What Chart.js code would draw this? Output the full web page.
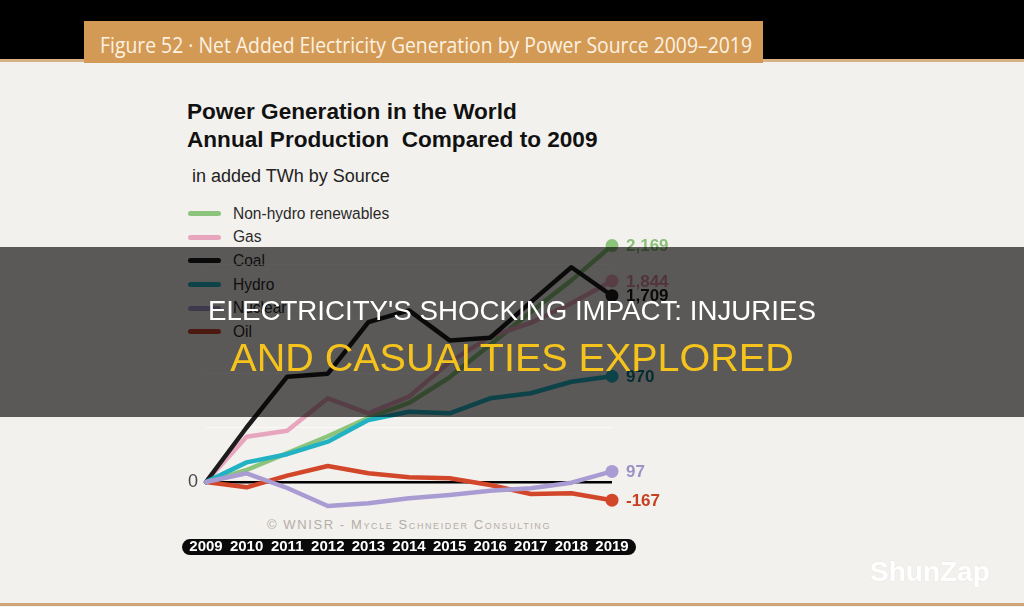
<!DOCTYPE html>
<html>
<head>
<meta charset="utf-8">
<script src="https://cdn.jsdelivr.net/npm/chart.js@4.4.1/dist/chart.umd.min.js"></script>
<style>
  html, body { margin: 0; padding: 0; }
  body {
    width: 1024px; height: 607px; overflow: hidden; position: relative;
    background: #f3f1ee; font-family: "Liberation Sans", Arial, sans-serif;
  }
  .abs { position: absolute; }
  #top-band { left: 0; top: 0; width: 1024px; height: 59px; background: #000; }
  #top-rule { left: 0; top: 59px; width: 1024px; height: 3px; background: #d8b185; }
  #fig-bar { left: 84px; top: 21px; width: 679px; height: 42px; background: #d39a55; }
  #fig-title {
    left: 100px; top: 30px; font-family: "Open Sans", sans-serif; font-size: 22px;
    line-height: 28px; color: #fdf2e2; white-space: nowrap; transform-origin: left center;
  }
  #title { left: 187px; top: 98px; font-weight: bold; font-size: 22.6px; line-height: 28px; color: #111; white-space: nowrap; }
  #subtitle { left: 192px; top: 165px; font-size: 18px; line-height: 22px; color: #222; white-space: nowrap; }
  #legend { left: 188px; top: 202px; }
  .legend-row { display: flex; align-items: center; height: 23.6px; }
  .legend-line { width: 33px; height: 5px; border-radius: 3px; margin-right: 12px; }
  .legend-text { font-size: 16px; color: #2a2a2a; display: inline-block; transform-origin: left center; transform: scale(0.97, 1.06); }
  #credit {
    left: 409px; top: 517px; font-size: 13px; line-height: 16px; color: #b3aea8;
    font-variant: small-caps; letter-spacing: 1.6px; white-space: nowrap; transform: translateX(-50%);
  }
  #chart { left: 0; top: 0; z-index: 1; }
  #banner { left: 0; top: 247px; width: 1024px; height: 170px; background: rgba(0, 0, 0, 0.63); z-index: 2; }
  .banner-line { position: absolute; left: 0; width: 1024px; text-align: center; white-space: nowrap; }
  #banner-1 { top: 48px; font-size: 27.7px; line-height: 32px; color: #fff; }
  #banner-2 { top: 88px; font-size: 39.5px; line-height: 44px; color: #f6c31c; }
  #watermark {
    left: 870px; top: 555px; font-size: 28px; line-height: 34px; font-weight: bold; color: #fff;
    text-shadow: 0 0 2px rgba(0, 0, 0, 0.08); z-index: 3;
  }
  #bottom-rule { left: 0; top: 603px; width: 1024px; height: 3px; background: #cfa57a; }
</style>
</head>
<body>
<div id="top-band" class="abs"></div>
<div id="top-rule" class="abs"></div>
<div id="fig-bar" class="abs"></div>
<div id="fig-title" class="abs">Figure 52 · Net Added Electricity Generation by Power Source 2009–2019</div>

<div id="title" class="abs">Power Generation in the World<br>Annual Production&nbsp; Compared to 2009</div>
<div id="subtitle" class="abs">in added TWh by Source</div>
<div id="legend" class="abs"></div>
<div id="credit" class="abs">© WNISR - Mycle Schneider Consulting</div>

<canvas id="chart" class="abs" width="1024" height="607"></canvas>

<div id="banner" class="abs">
  <div id="banner-1" class="banner-line">ELECTRICITY'S SHOCKING IMPACT: INJURIES</div>
  <div id="banner-2" class="banner-line">AND CASUALTIES EXPLORED</div>
</div>
<div id="watermark" class="abs">ShunZap</div>
<div id="bottom-rule" class="abs"></div>

<script>
// Chart data (added TWh compared to 2009)
const years = ['2009', '2010', '2011', '2012', '2013', '2014', '2015', '2016', '2017', '2018', '2019'];
const seriesNames = ['Non-hydro renewables', 'Gas', 'Coal', 'Hydro', 'Nuclear', 'Oil'];
const seriesColors = ['#8dc47c', '#e8a6be', '#1c1c1c', '#22b2c4', '#a99cd2', '#d2472a'];
const labelColors = ['#8cbf78', '#d98aa6', '#1a1a1a', '#127785', '#9c92c8', '#c6411f'];
const drawOrder = [5, 4, 2, 1, 0, 3];

const renewables = [0, 110, 265, 420, 590, 725, 960, 1260, 1560, 1850, 2169];
const gas = [0, 416, 471, 768, 630, 783, 1100, 1333, 1460, 1640, 1844];
const coal = [0, 500, 966, 994, 1467, 1574, 1299, 1324, 1650, 1970, 1709];
const hydro = [0, 180, 255, 370, 569, 645, 630, 768, 814, 920, 970];
const nuclear = [0, 80, -55, -220, -195, -150, -119, -80, -58, -6, 97];
const oil = [0, -49, 58, 147, 80, 43, 34, -28, -110, -104, -167];

const yTicks = [0, 500, 1000, 1500, 2000];

const allSeries = [renewables, gas, coal, hydro, nuclear, oil];

// Build the legend from the series names and colours
const legendBox = document.querySelector("#legend");
seriesNames.forEach((name, i) => {
    const row = document.createElement("div");
    row.className = "legend-row";
    row.innerHTML = `<span class="legend-line" style="background:${seriesColors[i]}"></span><span class="legend-text">${name}</span>`;
    legendBox.appendChild(row);
});

// Squeeze the header text to the width of the bar
const figTitle = document.querySelector("#fig-title");
figTitle.style.transform = "scaleX(" + (652 / figTitle.getBoundingClientRect().width) + ")";

// Black rounded strip behind the year labels
const yearPill = {
    id: 'yearPill',
    beforeDraw(chart) {
        const x = chart.scales.x;
        const ctx = chart.ctx;
        const left = x.getPixelForValue(0) - 24;
        const right = x.getPixelForValue(years.length - 1) + 24;
        const top = x.top + 13.5;
        const h = 16;
        ctx.save();
        ctx.fillStyle = '#0a0a0a';
        ctx.beginPath();
        ctx.roundRect(left, top, right - left, h, h / 2);
        ctx.fill();
        ctx.restore();
    }
};

// Value labels next to the last point of each line
const endLabels = {
    id: 'endLabels',
    afterDatasetsDraw(chart) {
        const ctx = chart.ctx;
        ctx.save();
        ctx.font = 'bold 17px "Liberation Sans", Arial, sans-serif';
        ctx.textBaseline = 'middle';
        ctx.textAlign = 'left';
        chart.data.datasets.forEach((ds, i) => {
            const meta = chart.getDatasetMeta(i);
            const last = meta.data[meta.data.length - 1];
            const value = ds.data[ds.data.length - 1];
            ctx.fillStyle = labelColors[i];
            ctx.fillText(value.toLocaleString('en-US'), last.x + 14, last.y + 1);
        });
        ctx.restore();
    }
};

const lastIndex = years.length - 1;

new Chart(document.querySelector("#chart"), {
    type: 'line',
    data: {
        labels: years,
        datasets: allSeries.map((values, i) => ({
            label: seriesNames[i],
            data: values,
            borderColor: seriesColors[i],
            backgroundColor: seriesColors[i],
            borderWidth: 4.5,
            borderJoinStyle: 'round',
            borderCapStyle: 'round',
            pointRadius: (c) => c.dataIndex === lastIndex ? 6.5 : 0,
            pointBorderWidth: 0,
            pointBackgroundColor: seriesColors[i],
            tension: 0,
            clip: false,
            order: drawOrder[i]
        }))
    },
    options: {
        responsive: false,
        animation: false,
        events: [],
        layout: {
            padding: { left: 176, right: 412, top: 220.4, bottom: 41.4 }
        },
        plugins: {
            legend: { display: false },
            tooltip: { enabled: false },
            title: { display: false }
        },
        scales: {
            x: {
                type: 'category',
                offset: false,
                grid: { display: false, drawTicks: false },
                border: { display: false },
                ticks: {
                    color: '#ffffff',
                    font: { family: '"Liberation Sans", Arial, sans-serif', size: 15, weight: 'bold' },
                    padding: 12.5,
                    maxRotation: 0,
                    autoSkip: false
                },
                afterFit: (s) => { s.height = 40; }
            },
            y: {
                min: -400,
                max: 2400,
                afterBuildTicks: (s) => { s.ticks = yTicks.map(v => ({ value: v })); },
                grid: {
                    drawTicks: false,
                    color: (c) => c.tick && c.tick.value === 0 ? '#000000' : 'rgba(255,255,255,0.6)',
                    lineWidth: (c) => c.tick && c.tick.value === 0 ? 2.5 : 1
                },
                border: { display: false },
                ticks: {
                    color: '#4a4a4a',
                    padding: 8,
                    font: { family: '"Liberation Sans", Arial, sans-serif', size: 18 },
                    callback: (v) => v === 0 ? '0' : ''
                },
                afterFit: (s) => { s.width = 30; }
            }
        }
    },
    plugins: [yearPill, endLabels]
});
</script>
</body>
</html>
